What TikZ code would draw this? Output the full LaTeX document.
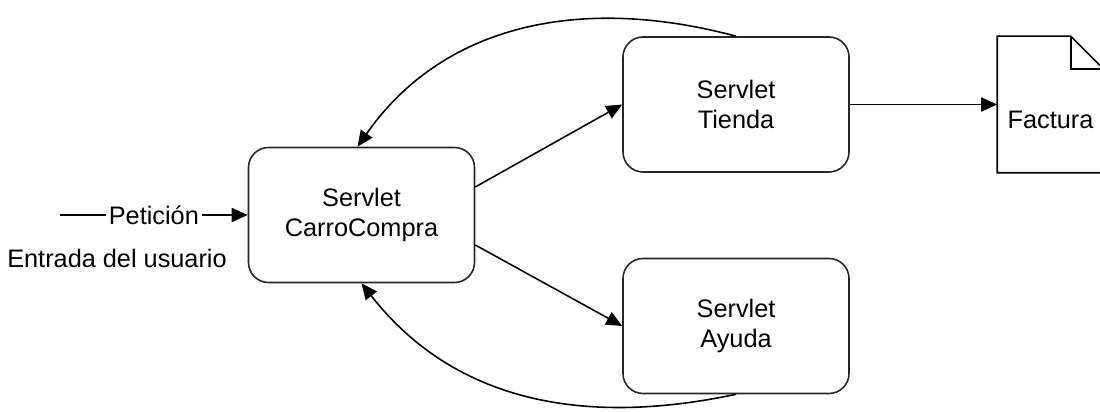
\documentclass[tikz,border=0pt]{standalone}
\usepackage{fontspec}
\setmainfont{Liberation Sans}
\usetikzlibrary{arrows.meta, positioning, shapes}

\begin{document}
\begin{tikzpicture}[every node/.style={font=\fontsize{14.4}{17}\selectfont, align=center},
  every path/.style={line width=0.9pt},
  servlet/.style={draw=black!85, rounded corners=0.4cm, minimum width=4.52cm, minimum height=2.7cm},
  flecha/.style={-{Triangle[length=0.32cm, width=0.28cm]}}]

\useasboundingbox (0,0) rectangle (22,8.24);

% --- Servlets ---
\node[servlet] (carro) at (7.23,3.94) {Servlet\\CarroCompra};
\node[servlet] (tienda) at (14.72,6.15) {Servlet\\Tienda};
\node[servlet] (ayuda) at (14.72,1.72) {Servlet\\Ayuda};

% --- Factura ---
\node[minimum width=2.1cm, minimum height=2.7cm] (factura) at (21.01,6.15) {};
\node (facturatxt) at ([yshift=-0.31cm]factura.center) {Factura};
\draw (factura.south west) -- (factura.north west) -- ([xshift=-0.66cm]factura.north east)
  -- ([yshift=-0.66cm]factura.north east) -- (factura.south east) -- cycle;
\draw ([xshift=-0.66cm]factura.north east) |- ([yshift=-0.66cm]factura.north east);

% --- Entrada ---
\coordinate (inicio) at (1.2,3.94);
\draw[flecha] (inicio) -- node[fill=white, inner sep=1.5pt] (peticion) {Petici\'on} (carro.west);
\node (entrada) at (2.34,3.08) {Entrada del usuario};

% --- Llamadas ---
\draw[flecha] ([yshift=0.56cm]carro.east) -- (tienda.west);
\draw[flecha] ([yshift=-0.6cm]carro.east) -- (ayuda.west);
\draw[flecha] (tienda.east) -- (factura.west);

% --- Retornos ---
\draw[flecha] (tienda.north) to[out=165, in=55] ([xshift=-0.08cm]carro.north);
\draw[flecha] (ayuda.south) to[out=192, in=-52] (carro.south);

\end{tikzpicture}
\end{document}
